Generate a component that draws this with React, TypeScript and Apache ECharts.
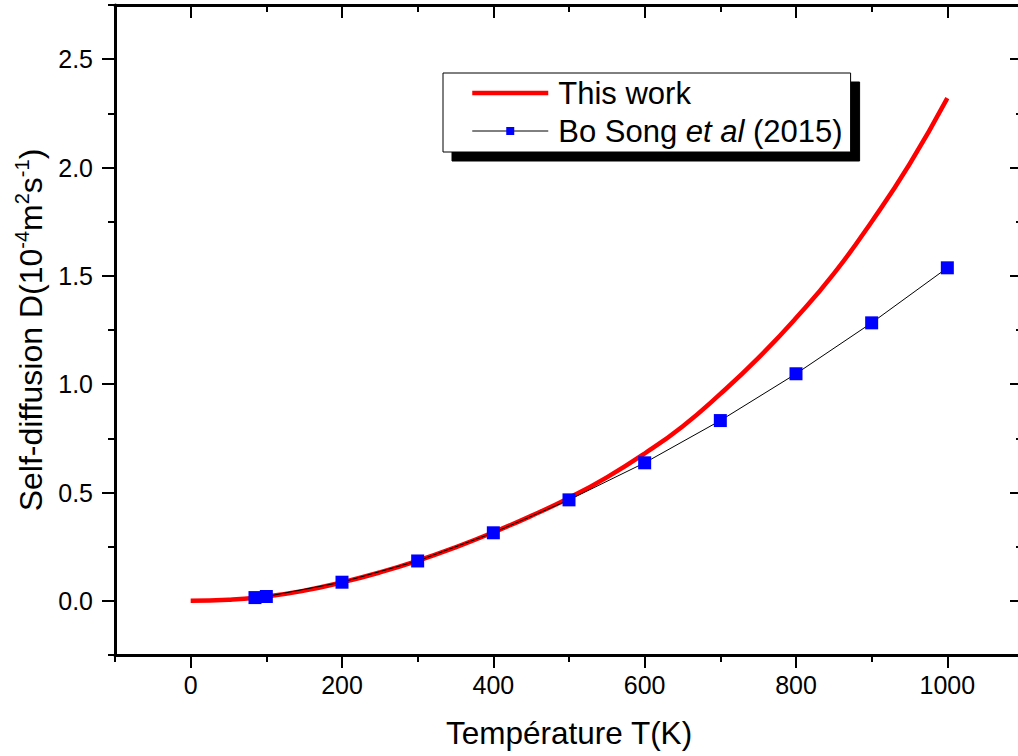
import React, { useEffect, useRef } from "react";
import * as echarts from "echarts";

// ---- data ----
const tempThisWork = [0, 50, 100, 150, 200, 250, 300, 350, 400, 450, 500, 550, 600, 650, 700, 750, 800, 850, 900, 950, 1000];
const dThisWork = [0, 0.005, 0.02, 0.047, 0.085, 0.131, 0.185, 0.247, 0.316, 0.392, 0.475, 0.57, 0.68, 0.805, 0.955, 1.12, 1.305, 1.51, 1.75, 2.015, 2.32];

const tempSong = [85, 100, 200, 300, 400, 500, 600, 700, 800, 900, 1000];
const dSong = [0.015, 0.02, 0.086, 0.184, 0.314, 0.466, 0.637, 0.832, 1.048, 1.283, 1.537];

const xMajorTicks = [0, 200, 400, 600, 800, 1000];
const yMajorTicks = [0, 0.5, 1.0, 1.5, 2.0, 2.5];

const seriesNames = ["This work", "Bo Song et al (2015)"];

const FONT = '"Liberation Sans", Arial, Helvetica, sans-serif';

export default function App() {
  const ref = useRef<HTMLDivElement>(null);

  useEffect(() => {
    if (!ref.current) return;
    const chart = echarts.init(ref.current, undefined, { renderer: "svg" });

    const axisLine = { show: true, onZero: false, lineStyle: { color: "#000", width: 3 } };
    const noLine = { show: false, onZero: false };
    const minorTick = (inside: boolean) => ({ show: true, inside, length: 7, lineStyle: { color: "#000", width: 2 } });
    const majorTick = (inside: boolean, values: number[]) => ({
      show: true,
      inside,
      length: 13,
      customValues: values,
      lineStyle: { color: "#000", width: 2 },
    });

    const xBase = { type: "value", min: -100, max: 1100, splitLine: { show: false } };
    const yBase = { type: "value", min: -0.25, max: 2.75, splitLine: { show: false } };

    const option: any = {
      animation: false,
      backgroundColor: "#fff",
      textStyle: { fontFamily: FONT },
      grid: { left: 115, top: 5, width: 908, height: 650, containLabel: false, outerBoundsMode: "none" },
      xAxis: [
        {
          ...xBase,
          position: "bottom",
          interval: 100,
          axisLine,
          axisTick: minorTick(false),
          axisLabel: {
            show: true,
            fontSize: 25,
            color: "#000",
            fontFamily: FONT,
            margin: 17,
            formatter: (v: number) => (xMajorTicks.indexOf(Math.round(v)) >= 0 ? String(Math.round(v)) : ""),
          },
          name: "Température T(K)",
          nameLocation: "middle",
          nameGap: 62,
          nameTextStyle: { fontSize: 31.5, color: "#000", fontFamily: FONT },
        },
        {
          ...xBase,
          position: "bottom",
          axisLine: noLine,
          axisTick: majorTick(false, xMajorTicks),
          axisLabel: { show: false },
        },
        {
          ...xBase,
          position: "top",
          interval: 100,
          axisLine,
          axisTick: minorTick(true),
          axisLabel: { show: false },
        },
        {
          ...xBase,
          position: "top",
          axisLine: noLine,
          axisTick: majorTick(true, xMajorTicks),
          axisLabel: { show: false },
        },
      ],
      yAxis: [
        {
          ...yBase,
          position: "left",
          interval: 0.25,
          axisLine,
          axisTick: minorTick(false),
          axisLabel: {
            show: true,
            fontSize: 25,
            color: "#000",
            fontFamily: FONT,
            margin: 22,
            formatter: (v: number) => {
              const isMajor = yMajorTicks.some((t) => Math.abs(t - v) < 1e-6);
              return isMajor ? v.toFixed(1) : "";
            },
          },
          name: "{a|Self-diffusion D(10}{s|-4}{a|m}{s|2}{a|s}{s|-1}{a|)}",
          nameLocation: "middle",
          nameGap: 61,
          nameTextStyle: {
            color: "#000",
            fontFamily: FONT,
            rich: {
              a: { fontSize: 32, lineHeight: 38, color: "#000", fontFamily: FONT },
              s: { fontSize: 20, lineHeight: 20, verticalAlign: "top", color: "#000", fontFamily: FONT },
            },
          },
        },
        {
          ...yBase,
          position: "left",
          axisLine: noLine,
          axisTick: majorTick(false, yMajorTicks),
          axisLabel: { show: false },
        },
        {
          ...yBase,
          position: "right",
          interval: 0.25,
          axisLine,
          axisTick: minorTick(true),
          axisLabel: { show: false },
        },
        {
          ...yBase,
          position: "right",
          axisLine: noLine,
          axisTick: majorTick(true, yMajorTicks),
          axisLabel: { show: false },
        },
      ],
      legend: {
        orient: "vertical",
        left: 443,
        top: 73,
        itemWidth: 76,
        itemHeight: 10,
        itemGap: 6,
        padding: [4, 8, 5, 27],
        backgroundColor: "#fff",
        borderColor: "#000",
        borderWidth: 1,
        borderRadius: 0,
        shadowColor: "#000",
        shadowBlur: 0,
        shadowOffsetX: 9,
        shadowOffsetY: 9,
        data: [
          { name: seriesNames[0], itemStyle: { opacity: 0 }, lineStyle: { width: 4.5, color: "#ff0000" } },
          { name: seriesNames[1], lineStyle: { width: 1, color: "#000" } },
        ],
        formatter: (name: string) =>
          name === seriesNames[1] ? "{n|Bo Song }{i|et al}{n| (2015)}" : "{n|" + name + "}",
        textStyle: {
          fontSize: 31,
          lineHeight: 32,
          color: "#000",
          fontFamily: FONT,
          padding: [0, 0, 0, 5],
          rich: {
            n: { fontSize: 31, lineHeight: 32, color: "#000", fontFamily: FONT },
            i: { fontSize: 31, lineHeight: 32, color: "#000", fontFamily: FONT, fontStyle: "italic" },
          },
        },
      },
      series: [
        {
          name: seriesNames[0],
          type: "line",
          xAxisIndex: 0,
          yAxisIndex: 0,
          smooth: true,
          symbol: "none",
          data: tempThisWork.map((t, i) => [t, dThisWork[i]]),
          lineStyle: { color: "#ff0000", width: 4.5 },
          itemStyle: { color: "#ff0000" },
          z: 2,
        },
        {
          name: seriesNames[1],
          type: "line",
          xAxisIndex: 0,
          yAxisIndex: 0,
          symbol: "rect",
          symbolSize: 13,
          data: tempSong.map((t, i) => [t, dSong[i]]),
          lineStyle: { color: "#000", width: 1 },
          itemStyle: { color: "#0000ff" },
          z: 3,
        },
      ],
    };

    chart.setOption(option);
    return () => chart.dispose();
  }, []);

  return (
    <div
      ref={ref}
      style={{ position: "absolute", left: 0, top: 0, width: 1018, height: 756, background: "#fff" }}
    />
  );
}
